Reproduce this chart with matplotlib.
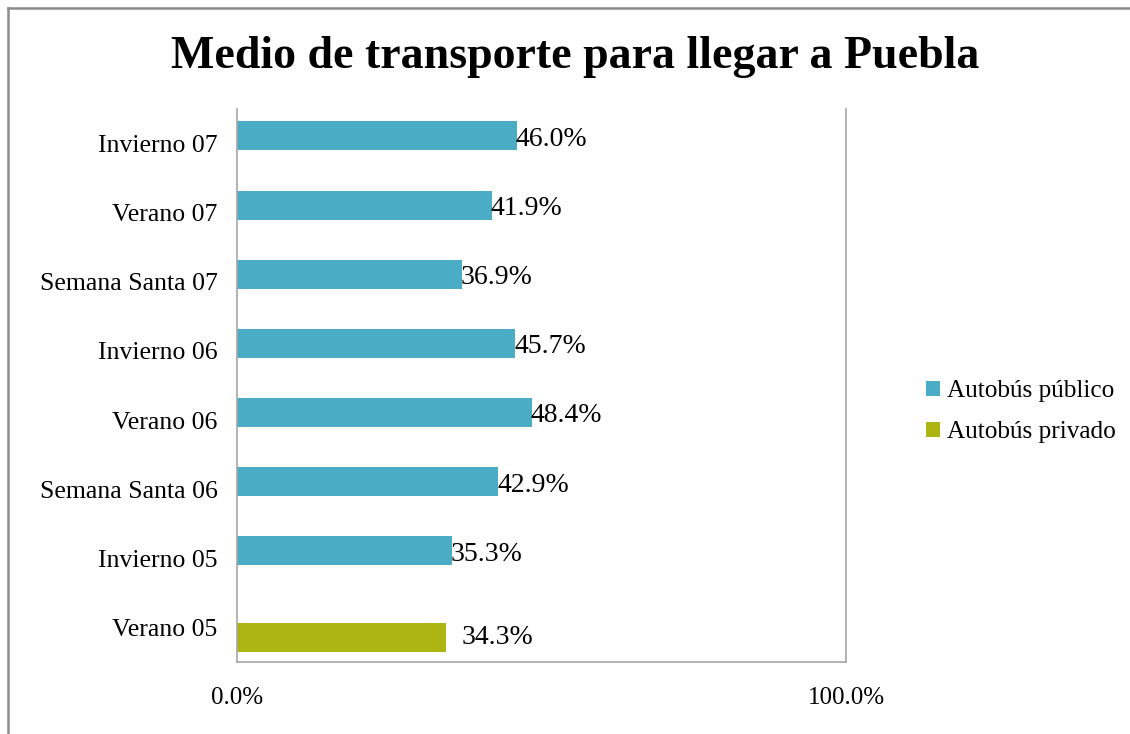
import numpy as np
import matplotlib.pyplot as plt
from matplotlib.lines import Line2D

plt.rcParams['font.family'] = ['Liberation Serif', 'DejaVu Serif']

# Data (top to bottom as shown)
categories = ["Invierno 07", "Verano 07", "Semana Santa 07", "Invierno 06",
              "Verano 06", "Semana Santa 06", "Invierno 05", "Verano 05"]
publico = [46.0, 41.9, 36.9, 45.7, 48.4, 42.9, 35.3, 0.0]
privado = [0.0, 0.0, 0.0, 0.0, 0.0, 0.0, 0.0, 34.3]
series_names = ["Autobús público", "Autobús privado"]
colors = ["#4BACC6", "#ADB513"]

fig = plt.figure(figsize=(11.3, 7.34), dpi=100)
ax = fig.add_axes([0.2097, 0.0981, 0.539, 0.7534])

y = np.arange(len(categories))
h = 0.42
ax.barh(y - 0.11, publico, height=h, color=colors[0], label=series_names[0])
ax.barh(y + 0.14, privado, height=h, color=colors[1], label=series_names[1])

for yi, v in zip(y, publico):
    if v > 0:
        ax.text(v - 0.2, yi - 0.06, f"{v:.1f}%", ha='left', va='center', fontsize=20)
for yi, v in zip(y, privado):
    if v > 0:
        ax.text(v + 2.5, yi + 0.14, f"{v:.1f}%", ha='left', va='center', fontsize=20)

ax.set_xlim(0, 100)
ax.set_ylim(len(categories) - 0.5, -0.5)
ax.set_yticks(y)
ax.set_yticklabels(categories, fontsize=18.5)
ax.set_xticks([0, 100])
ax.set_xticklabels(["0.0%", "100.0%"], fontsize=18)
ax.tick_params(axis='both', length=0)
ax.tick_params(axis='x', pad=18)
ax.tick_params(axis='y', pad=14)

ax.spines['top'].set_visible(False)
for s in ['left', 'right', 'bottom']:
    ax.spines[s].set_color('#a6a6a6')
    ax.spines[s].set_linewidth(1.2)

fig.text(0.509, 0.922, "Medio de transporte para llegar a Puebla",
         ha='center', va='center', fontsize=33, fontweight='bold')

fig.legend(loc='center left', bbox_to_anchor=(0.808, 0.439), frameon=False,
           fontsize=18.2, handlelength=0.55, handleheight=0.55, handletextpad=0.3,
           labelspacing=0.75, borderpad=0)

# outer chart border (cropped at right and bottom)
fig.add_artist(Line2D([8 / 1130, 8 / 1130], [0, 1 - 8 / 734], transform=fig.transFigure,
                      color='#8c8c8c', linewidth=1.8))
fig.add_artist(Line2D([8 / 1130, 1], [1 - 8 / 734, 1 - 8 / 734], transform=fig.transFigure,
                      color='#8c8c8c', linewidth=1.8))

fig.savefig("out.png", dpi=100)
